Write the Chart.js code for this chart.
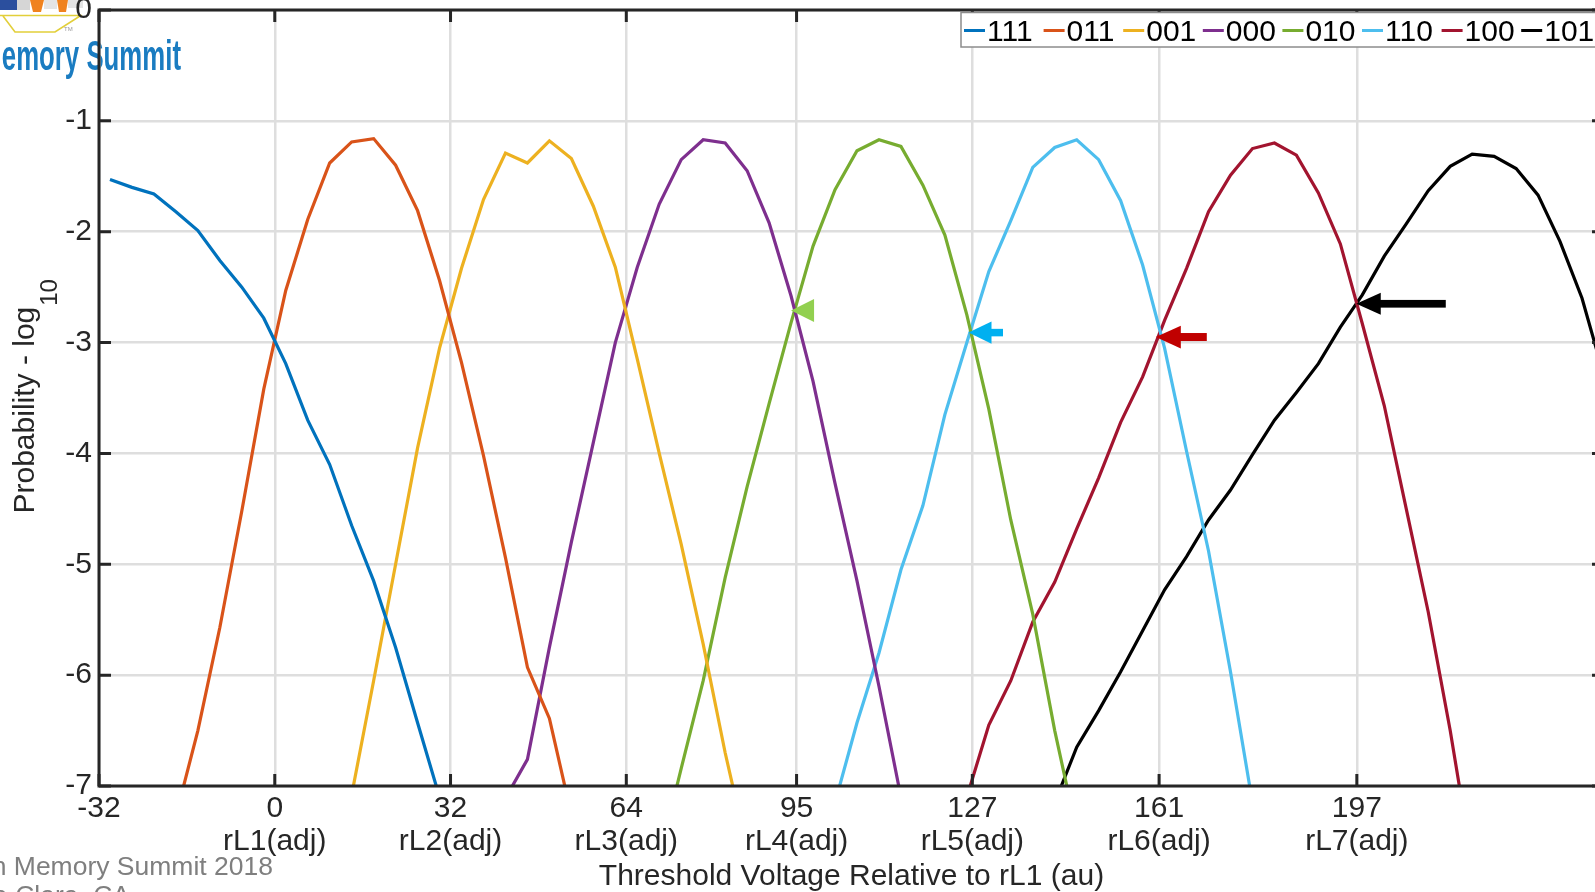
<!DOCTYPE html>
<html>
<head>
<meta charset="utf-8">
<title>Threshold voltage distributions</title>
<script src="https://cdn.jsdelivr.net/npm/chart.js@4.4.1/dist/chart.umd.min.js"></script>
<style>
  html, body { margin: 0; padding: 0; background: #fff; overflow: hidden; }
  #wrap { width: 1610px; height: 892px; }
</style>
</head>
<body>
<div id="wrap"><canvas id="vtChart" width="1610" height="892"></canvas></div>
<script>
// state codes and their colours (MATLAB default order, last one black)
const states = ['111', '011', '001', '000', '010', '110', '100', '101'];
const stateColors = ['#0072BD', '#D95319', '#EDB120', '#7E2F8E', '#77AC30', '#4DBEEE', '#A2142F', '#000000'];

// threshold voltage sample grid (au)
const voltage = [-30, -26, -22, -18, -14, -10, -6, -2, 2, 6, 10, 14, 18, 22, 26, 30, 34, 38, 42, 46,
  50, 54, 58, 62, 66, 70, 74, 78, 82, 86, 90, 94, 98, 102, 106, 110, 114, 118, 122, 126,
  130, 134, 138, 142, 146, 150, 154, 158, 162, 166, 170, 174, 178, 182, 186, 190, 194, 198, 202, 206,
  210, 214, 218, 222, 226, 230, 234, 238, 242];

// first sample voltage of each state's curve
const startAt = [-30, -18, 14, 42, 70, 102, 126, 142];

// log10 probability
const p111 = [-1.53, -1.60, -1.66, -1.82, -1.99, -2.26, -2.50, -2.78, -3.19, -3.70, -4.10, -4.65, -5.15, -5.75, -6.43, -7.10];
const p011 = [-7.27, -6.50, -5.57, -4.52, -3.42, -2.53, -1.89, -1.38, -1.19, -1.16, -1.40, -1.81, -2.44, -3.18, -4.02, -4.94, -5.93, -6.39, -7.26];
const p001 = [-7.08, -6.05, -5.00, -3.95, -3.05, -2.33, -1.71, -1.29, -1.38, -1.18, -1.34, -1.77, -2.32, -3.15, -4.00, -4.82, -5.72, -6.70, -7.57];
const p000 = [-7.11, -6.76, -5.75, -4.80, -3.90, -3.00, -2.32, -1.75, -1.35, -1.17, -1.20, -1.45, -1.92, -2.58, -3.35, -4.27, -5.15, -6.10, -7.10];
const p010 = [-7.65, -6.84, -6.05, -5.12, -4.30, -3.55, -2.82, -2.13, -1.62, -1.27, -1.17, -1.23, -1.58, -2.03, -2.75, -3.60, -4.60, -5.45, -6.50, -7.41];
const p110 = [-7.15, -6.43, -5.80, -5.05, -4.47, -3.65, -3.00, -2.36, -1.90, -1.42, -1.24, -1.17, -1.35, -1.72, -2.30, -3.05, -3.98, -4.88, -5.97, -7.15];
const p100 = [-7.10, -6.45, -6.05, -5.52, -5.16, -4.68, -4.22, -3.72, -3.31, -2.80, -2.33, -1.82, -1.49, -1.25, -1.20, -1.31, -1.65, -2.11, -2.83, -3.57, -4.50, -5.43, -6.50, -7.70];
const p101 = [-7.15, -6.65, -6.32, -5.97, -5.60, -5.23, -4.93, -4.60, -4.33, -4.01, -3.70, -3.45, -3.19, -2.86, -2.57, -2.22, -1.93, -1.63, -1.41, -1.30, -1.32, -1.43, -1.67, -2.09, -2.60, -3.30];
const probs = [p111, p011, p001, p000, p010, p110, p100, p101];

// x ticks: read levels
const xTickValues = [-32, 0, 32, 64, 95, 127, 161, 197];
const xTickNames = ['', 'rL1(adj)', 'rL2(adj)', 'rL3(adj)', 'rL4(adj)', 'rL5(adj)', 'rL6(adj)', 'rL7(adj)'];

// arrows pointing at the crossings
const arrowVoltage = [94, 126.3, 160.4, 196.9];
const arrowProb = [-2.71, -2.91, -2.95, -2.65];
const arrowColors = ['#92D050', '#00B0F0', '#C00000', '#000000'];
const arrowShape = [  // head length, half head height, total length, shaft thickness (px)
  { head: 23, half: 11.5, total: 23, shaft: 0 },
  { head: 23, half: 11.2, total: 34.5, shaft: 7.5 },
  { head: 25, half: 11.4, total: 51, shaft: 8 },
  { head: 24.5, half: 11, total: 89.5, shaft: 7.7 }
];

const FONT = "'Liberation Sans', Arial, Helvetica, sans-serif";
const INK = '#262626';
const GRID = '#dedede';

function drawLogo(ctx) {
  ctx.save();
  ctx.fillStyle = '#2b4f9e';
  ctx.fillRect(0, 0, 17, 10);
  ctx.fillStyle = '#d6d6d6';
  ctx.fillRect(17, 0, 13, 10);
  ctx.fillStyle = '#e4e4e4';
  ctx.fillRect(44, 0, 13, 9);
  ctx.fillRect(68, 0, 15, 8);
  ctx.fillStyle = '#f0821e';
  ctx.beginPath();
  ctx.moveTo(30, 0); ctx.lineTo(44, 0); ctx.lineTo(41, 12); ctx.lineTo(33, 12);
  ctx.closePath(); ctx.fill();
  ctx.beginPath();
  ctx.moveTo(57, 0); ctx.lineTo(68, 0); ctx.lineTo(66, 12); ctx.lineTo(59, 12);
  ctx.closePath(); ctx.fill();
  ctx.strokeStyle = '#e2cf3a';
  ctx.lineWidth = 1.6;
  ctx.beginPath();
  ctx.moveTo(0, 15.5); ctx.lineTo(82, 15.5);
  ctx.moveTo(3, 16); ctx.lineTo(15, 32); ctx.lineTo(55, 32); ctx.lineTo(80, 16);
  ctx.stroke();
  ctx.fillStyle = '#999';
  ctx.font = '6px ' + FONT;
  ctx.fillText('TM', 64, 31);

  ctx.translate(181, 70);
  ctx.scale(0.6, 1);
  ctx.fillStyle = '#1a7cc1';
  ctx.font = 'bold 43px ' + FONT;
  ctx.textAlign = 'right';
  ctx.fillText('Flash Memory Summit', 0, 0);
  ctx.restore();
}

const frame = {
  id: 'frame',
  beforeDraw(chart) {
    const ctx = chart.ctx;
    ctx.save();
    ctx.fillStyle = '#fff';
    ctx.fillRect(0, 0, chart.width, chart.height);
    ctx.restore();
    drawLogo(ctx);
  },
  afterDatasetsDraw(chart) {
    const { ctx, chartArea: a, scales: { x, y } } = chart;
    ctx.save();
    // box
    ctx.strokeStyle = INK;
    ctx.lineWidth = 3;
    ctx.strokeRect(a.left, a.top, a.right - a.left, a.bottom - a.top);
    // inward ticks on all four sides
    ctx.beginPath();
    xTickValues.forEach(v => {
      const px = x.getPixelForValue(v);
      ctx.moveTo(px, a.bottom); ctx.lineTo(px, a.bottom - 12);
      ctx.moveTo(px, a.top); ctx.lineTo(px, a.top + 12);
    });
    y.ticks.forEach(t => {
      const py = y.getPixelForValue(t.value);
      ctx.moveTo(a.left, py); ctx.lineTo(a.left + 12, py);
      ctx.moveTo(a.right, py); ctx.lineTo(a.right - 12, py);
    });
    ctx.stroke();

    // arrows
    arrowVoltage.forEach((v, i) => {
      const tx = x.getPixelForValue(v);
      const ty = y.getPixelForValue(arrowProb[i]);
      const s = arrowShape[i];
      ctx.fillStyle = arrowColors[i];
      ctx.beginPath();
      ctx.moveTo(tx, ty);
      ctx.lineTo(tx + s.head, ty - s.half);
      ctx.lineTo(tx + s.head, ty + s.half);
      ctx.closePath();
      ctx.fill();
      if (s.shaft > 0) {
        ctx.fillRect(tx + s.head - 1, ty - s.shaft / 2, s.total - s.head + 1, s.shaft);
      }
    });
    ctx.restore();
  },
  afterDraw(chart) {
    const { ctx, chartArea: a } = chart;
    ctx.save();

    // legend
    ctx.fillStyle = '#fff';
    ctx.strokeStyle = '#8c8c8c';
    ctx.lineWidth = 1.5;
    ctx.fillRect(961, 12.5, 700, 34.5);
    ctx.strokeRect(961, 12.5, 700, 34.5);
    ctx.font = '30px ' + FONT;
    ctx.textBaseline = 'alphabetic';
    states.forEach((code, i) => {
      const x0 = 964 + i * 79.6;
      ctx.strokeStyle = stateColors[i];
      ctx.lineWidth = 3;
      ctx.beginPath();
      ctx.moveTo(x0, 30.5); ctx.lineTo(x0 + 21, 30.5);
      ctx.stroke();
      ctx.fillStyle = '#000';
      ctx.fillText(code, x0 + 23, 41);
    });

    // axis titles
    ctx.fillStyle = INK;
    ctx.textAlign = 'center';
    ctx.fillText('Threshold Voltage Relative to rL1 (au)', (a.left + a.right) / 2, 885);

    ctx.save();
    ctx.translate(34, 513.5);
    ctx.rotate(-Math.PI / 2);
    ctx.textAlign = 'left';
    const main = 'Probability - log';
    ctx.fillText(main, 0, 0);
    const w = ctx.measureText(main).width;
    ctx.font = '24px ' + FONT;
    ctx.fillText('10', w + 1, 23);
    ctx.restore();

    // slide footer
    ctx.fillStyle = '#7f7f7f';
    ctx.font = '26.5px ' + FONT;
    ctx.textAlign = 'right';
    ctx.fillText('Flash Memory Summit 2018', 273, 875);
    ctx.fillText('Santa Clara, CA', 130, 904);
    ctx.restore();
  }
};

const datasets = states.map((code, k) => {
  const first = voltage.indexOf(startAt[k]);
  return {
    label: code,
    data: probs[k].map((p, i) => ({ x: voltage[first + i], y: p })),
    borderColor: stateColors[k],
    backgroundColor: stateColors[k],
    borderWidth: 3.2,
    pointRadius: 0,
    tension: 0,
    fill: false,
    clip: 0
  };
});

new Chart(document.getElementById('vtChart'), {
  type: 'line',
  data: { datasets },
  options: {
    responsive: false,
    animation: false,
    devicePixelRatio: 1,
    layout: { padding: { top: 10, right: 6, bottom: 0, left: 0 } },
    plugins: { legend: { display: false }, tooltip: { enabled: false } },
    scales: {
      x: {
        type: 'linear',
        min: -32,
        max: 242,
        afterBuildTicks: s => { s.ticks = xTickValues.map(v => ({ value: v })); },
        afterFit: s => { s.height = 106; s.paddingLeft = 0; s.paddingRight = 0; },
        border: { display: false },
        grid: { color: GRID, lineWidth: 2.5, drawTicks: false },
        ticks: {
          autoSkip: false,
          maxRotation: 0,
          minRotation: 0,
          padding: 6,
          color: INK,
          font: { family: FONT, size: 30, lineHeight: 1.1 },
          callback: (v, i) => xTickNames[i] ? [String(xTickValues[i]), xTickNames[i]] : String(xTickValues[i])
        }
      },
      y: {
        min: -7,
        max: 0,
        afterFit: s => { s.width = 99; s.paddingTop = 0; s.paddingBottom = 0; },
        border: { display: false },
        grid: { color: GRID, lineWidth: 2.5, drawTicks: false },
        ticks: {
          stepSize: 1,
          padding: 7,
          color: INK,
          font: { family: FONT, size: 30 }
        }
      }
    }
  },
  plugins: [frame]
});
</script>
</body>
</html>
